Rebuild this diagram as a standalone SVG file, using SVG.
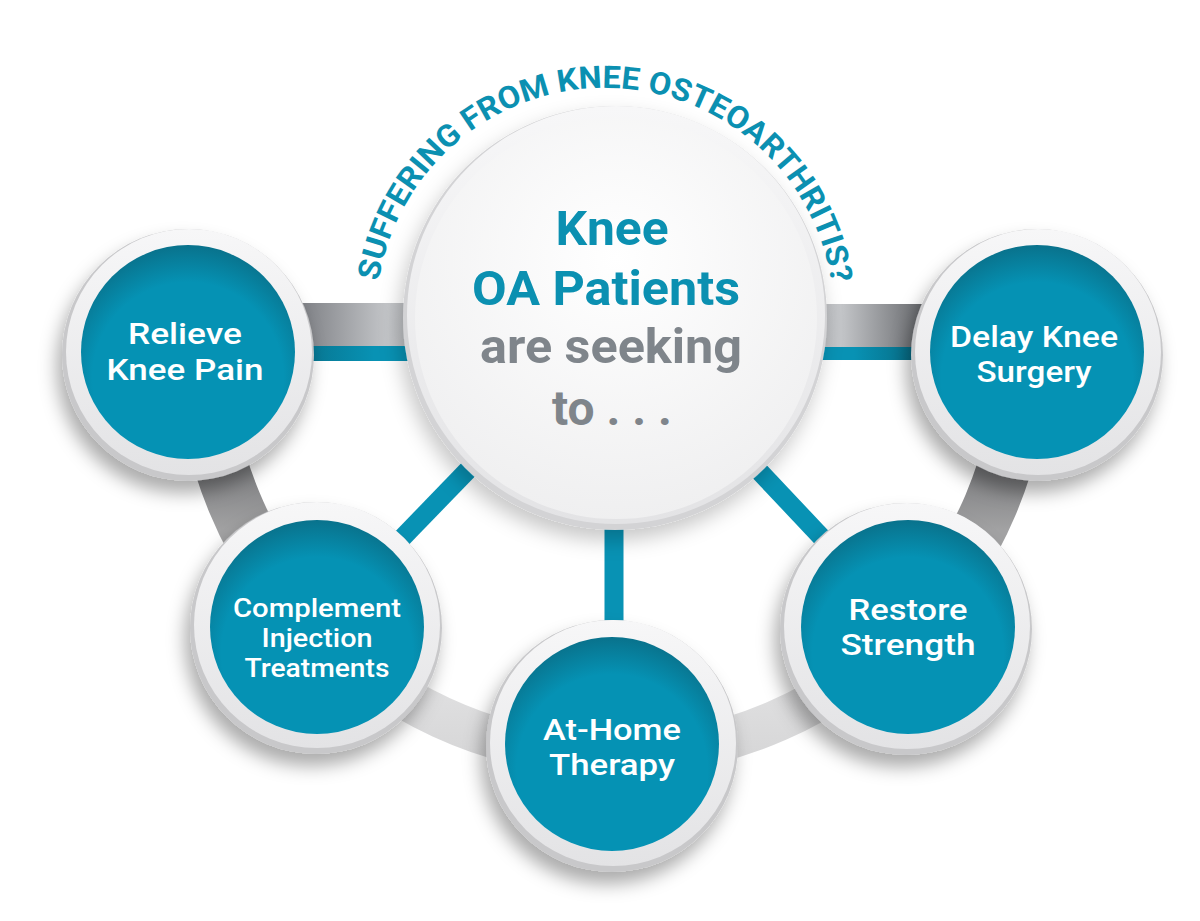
<svg xmlns="http://www.w3.org/2000/svg" width="1200" height="921" viewBox="0 0 1200 921">
<defs>
<style>
.lbl{font-family:Roboto,"Liberation Sans",sans-serif;font-weight:500;fill:#ffffff;text-anchor:middle}
.ctr{font-family:Roboto,"Liberation Sans",sans-serif;font-weight:700;text-anchor:middle;font-size:48px}
.teal{fill:#0b90b1}
.gray{fill:#7f858b}
.arc{font-family:Roboto,"Liberation Sans",sans-serif;font-weight:700;fill:#0b90b1;font-size:31px}
</style>
<filter id="shadow" x="-30%" y="-30%" width="160%" height="170%">
<feDropShadow dx="-5" dy="12" stdDeviation="9" flood-color="#000" flood-opacity="0.33"/>
</filter>
<filter id="shadowC" x="-30%" y="-30%" width="160%" height="170%">
<feDropShadow dx="-4" dy="10" stdDeviation="10" flood-color="#000" flood-opacity="0.22"/>
</filter>
<linearGradient id="ringFace" x1="0" y1="0" x2="0" y2="1">
<stop offset="0" stop-color="#f7f7f8"/>
<stop offset="1" stop-color="#e3e3e5"/>
</linearGradient>
<radialGradient id="tealFill" cx="0.5" cy="0.62" r="0.62">
<stop offset="0.72" stop-color="#0592b4"/>
<stop offset="1" stop-color="#09728c"/>
</radialGradient>
<radialGradient id="centerFace" cx="0.5" cy="0.35" r="0.7">
<stop offset="0" stop-color="#ffffff"/>
<stop offset="1" stop-color="#eeeeef"/>
</radialGradient>
<linearGradient id="hLeft" x1="0" y1="0" x2="1" y2="0">
<stop offset="0" stop-color="#76787d"/>
<stop offset="0.7" stop-color="#c4c6c9"/>
<stop offset="1" stop-color="#b3b5b8"/>
</linearGradient>
<linearGradient id="hRight" x1="1" y1="0" x2="0" y2="0">
<stop offset="0" stop-color="#5a5c60"/>
<stop offset="0.7" stop-color="#c4c6c9"/>
<stop offset="1" stop-color="#b3b5b8"/>
</linearGradient>
<linearGradient id="tLeft" x1="0" y1="0" x2="1" y2="0">
<stop offset="0" stop-color="#076f89"/>
<stop offset="0.6" stop-color="#0892b4"/>
</linearGradient>
<linearGradient id="tRight" x1="1" y1="0" x2="0" y2="0">
<stop offset="0" stop-color="#065f75"/>
<stop offset="0.6" stop-color="#0892b4"/>
</linearGradient>
<linearGradient id="upperGray" gradientUnits="userSpaceOnUse" x1="0" y1="440" x2="0" y2="530">
<stop offset="0" stop-color="#6c6d70"/>
<stop offset="1" stop-color="#a2a2a3"/>
</linearGradient>
<linearGradient id="lowerGray" gradientUnits="userSpaceOnUse" x1="0" y1="640" x2="0" y2="760">
<stop offset="0" stop-color="#e6e6e7"/>
<stop offset="1" stop-color="#d6d6d7"/>
</linearGradient>
<path id="arcPath" d="M 378.8 281.2 A 229 229 0 0 1 831.2 281.2"/>
</defs>

<rect width="1200" height="921" fill="#ffffff"/>

<g id="connectors">
<path d="M 313.1 624.6 A 410 410 0 0 0 907.9 629.8" fill="none" stroke="url(#lowerGray)" stroke-width="42"/>
<path d="M 203.2 359.3 A 410 410 0 0 0 313.1 624.6" fill="none" stroke="url(#upperGray)" stroke-width="54"/>
<path d="M 907.9 629.8 A 410 410 0 0 0 1022.8 359.3" fill="none" stroke="url(#upperGray)" stroke-width="54"/>
<rect x="290" y="303" width="140" height="43" fill="url(#hLeft)"/>
<rect x="290" y="346" width="140" height="15" fill="url(#tLeft)"/>
<rect x="800" y="304" width="135" height="43" fill="url(#hRight)"/>
<rect x="800" y="347" width="135" height="13" fill="url(#tRight)"/>
<line x1="615" y1="318" x2="316" y2="627" stroke="#0892b4" stroke-width="19"/>
<line x1="615" y1="318" x2="907" y2="628" stroke="#0892b4" stroke-width="19"/>
<line x1="614" y1="318" x2="614" y2="745" stroke="#0892b4" stroke-width="19"/>
</g>

<g id="center">
<circle cx="615" cy="318" r="212" fill="#d3d3d5" filter="url(#shadowC)"/>
<circle cx="616" cy="315" r="209" fill="url(#ringFace)"/>
<circle cx="616" cy="318" r="201" fill="url(#centerFace)"/>
<text class="ctr teal" x="612" y="245" textLength="113" lengthAdjust="spacingAndGlyphs">Knee</text>
<text class="ctr teal" x="606" y="305" textLength="268" lengthAdjust="spacingAndGlyphs">OA Patients</text>
<text class="ctr gray" x="611" y="363" textLength="262" lengthAdjust="spacingAndGlyphs">are seeking</text>
<text class="ctr gray" x="612" y="425" textLength="120" lengthAdjust="spacingAndGlyphs">to . . .</text>
</g>

<g id="arc-title">
<text class="arc"><textPath href="#arcPath" textLength="650" lengthAdjust="spacingAndGlyphs">SUFFERING FROM KNEE OSTEOARTHRITIS?</textPath></text>
</g>

<g id="node-relieve">
<circle cx="188" cy="355" r="126" fill="#c8c8ca" filter="url(#shadow)"/>
<circle cx="189" cy="352" r="123" fill="url(#ringFace)"/>
<circle cx="188" cy="352" r="107" fill="url(#tealFill)"/>
<text class="lbl" x="185" y="344" font-size="30" textLength="114" lengthAdjust="spacingAndGlyphs">Relieve</text>
<text class="lbl" x="185" y="380" font-size="30" textLength="157" lengthAdjust="spacingAndGlyphs">Knee Pain</text>
</g>

<g id="node-delay">
<circle cx="1037" cy="355" r="126" fill="#c8c8ca" filter="url(#shadow)"/>
<circle cx="1038" cy="352" r="123" fill="url(#ringFace)"/>
<circle cx="1037" cy="352" r="107" fill="url(#tealFill)"/>
<text class="lbl" x="1034" y="347" font-size="29" textLength="168" lengthAdjust="spacingAndGlyphs">Delay Knee</text>
<text class="lbl" x="1034" y="382" font-size="29" textLength="115" lengthAdjust="spacingAndGlyphs">Surgery</text>
</g>

<g id="node-complement">
<circle cx="316" cy="628" r="126" fill="#c8c8ca" filter="url(#shadow)"/>
<circle cx="317" cy="625" r="123" fill="url(#ringFace)"/>
<circle cx="317" cy="627" r="107" fill="url(#tealFill)"/>
<text class="lbl" x="317" y="617" font-size="25" textLength="168" lengthAdjust="spacingAndGlyphs">Complement</text>
<text class="lbl" x="317" y="647" font-size="25" textLength="111" lengthAdjust="spacingAndGlyphs">Injection</text>
<text class="lbl" x="317" y="677" font-size="25" textLength="145" lengthAdjust="spacingAndGlyphs">Treatments</text>
</g>

<g id="node-athome">
<circle cx="612" cy="746" r="126" fill="#c8c8ca" filter="url(#shadow)"/>
<circle cx="613" cy="743" r="123" fill="url(#ringFace)"/>
<circle cx="612" cy="744" r="107" fill="url(#tealFill)"/>
<text class="lbl" x="612" y="740" font-size="29" textLength="138" lengthAdjust="spacingAndGlyphs">At-Home</text>
<text class="lbl" x="612" y="775" font-size="29" textLength="126" lengthAdjust="spacingAndGlyphs">Therapy</text>
</g>

<g id="node-restore">
<circle cx="906" cy="629" r="126" fill="#c8c8ca" filter="url(#shadow)"/>
<circle cx="907" cy="626" r="123" fill="url(#ringFace)"/>
<circle cx="908" cy="627" r="107" fill="url(#tealFill)"/>
<text class="lbl" x="908" y="620" font-size="29" textLength="119" lengthAdjust="spacingAndGlyphs">Restore</text>
<text class="lbl" x="908" y="655" font-size="29" textLength="135" lengthAdjust="spacingAndGlyphs">Strength</text>
</g>
</svg>
